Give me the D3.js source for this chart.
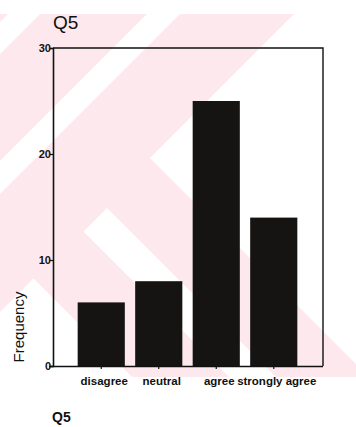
<!DOCTYPE html>
<html>
<head>
<meta charset="utf-8">
<script src="https://cdn.jsdelivr.net/npm/d3@7"></script>
<style>
  html, body { margin: 0; padding: 0; background: #fff; }
  svg { display: block; }
  text { font-family: "Liberation Sans", Arial, sans-serif; fill: #111; }
</style>
</head>
<body>
<div id="chart"></div>
<script>
// Q5 responses
const categories = ["disagree", "neutral", "agree", "strongly agree"];
const frequencies = [6, 8, 25, 14];
const yTicks = [0, 10, 20, 30];
const title = "Q5";
const yLabel = "Frequency";
const xLabel = "Q5";

const W = 356, H = 427;
const plot = { left: 53, right: 323, top: 48, bottom: 366 };

const svg = d3.select("#chart").append("svg")
  .attr("width", W).attr("height", H);

// faint pink backdrop pattern
const bg = svg.append("g");
svg.append("defs").append("clipPath").attr("id", "bgclip")
  .append("rect").attr("x", 0).attr("y", 14).attr("width", W).attr("height", 363);
const bgShapes = bg.attr("clip-path", "url(#bgclip)");
bgShapes.append("rect").attr("x", 0).attr("y", 14).attr("width", W).attr("height", 363)
  .attr("fill", "#fde9ed");
const slash = (a, b) => [[a, 0], [b, 0], [b - 600, 600], [a - 600, 600]];
const whiteShapes = [
  slash(22, 54),
  slash(161, 194),
  [[150, 158], [308, 0], [800, 0], [800, 808]],
  [[107, 208], [700, 801], [700, 848], [83.5, 231.5]],
  [[33.5, 278.5], [500, 745], [500, 800], [-300, 800], [-300, 612]]
];
bgShapes.selectAll("polygon.cut").data(whiteShapes).join("polygon")
  .attr("class", "cut")
  .attr("points", d => d.map(p => p.join(",")).join(" "))
  .attr("fill", "#fff");

// scales
const x = d3.scaleBand()
  .domain(categories)
  .range([72.5, 302.5])
  .paddingInner(0.18)
  .paddingOuter(0.09);
const y = d3.scaleLinear()
  .domain([0, 30])
  .range([plot.bottom, plot.top]);

// bars
svg.append("g").selectAll("rect.bar")
  .data(categories.map((c, i) => ({ c, v: frequencies[i] })))
  .join("rect")
  .attr("class", "bar")
  .attr("x", d => x(d.c))
  .attr("y", d => y(d.v))
  .attr("width", x.bandwidth())
  .attr("height", d => y(0) - y(d.v))
  .attr("fill", "#161313");

// frame: top and right edges
svg.append("path")
  .attr("d", `M${plot.left},${plot.top}H${plot.right}V${plot.bottom}`)
  .attr("fill", "none").attr("stroke", "#111").attr("stroke-width", 1.4);

// y axis
const yAxis = svg.append("g")
  .attr("transform", `translate(${plot.left},0)`)
  .call(d3.axisLeft(y).tickValues(yTicks).tickSize(3).tickPadding(1).tickFormat(d3.format("d")));
yAxis.select(".domain").attr("stroke", "#111").attr("stroke-width", 1.6);
yAxis.selectAll(".tick line").attr("stroke", "#111").attr("stroke-width", 1.2);
yAxis.selectAll(".tick text")
  .style("font-family", "'Liberation Sans', Arial, sans-serif")
  .style("font-size", "11px").style("font-weight", "bold")
  .attr("fill", "#111").attr("dy", "0.35em").attr("x", -2);

// x axis
const xAxis = svg.append("g")
  .attr("transform", `translate(0,${plot.bottom})`)
  .call(d3.axisBottom(x).tickSize(3).tickPadding(6).tickSizeOuter(0));
xAxis.select(".domain")
  .attr("d", `M${plot.left - 4},0.5H${plot.right}`)
  .attr("stroke", "#111").attr("stroke-width", 1.6);
xAxis.selectAll(".tick line").attr("stroke", "#111").attr("stroke-width", 1.2);
xAxis.selectAll(".tick text")
  .style("font-family", "'Liberation Sans', Arial, sans-serif")
  .style("font-size", "11.5px").style("font-weight", "bold")
  .attr("fill", "#111").attr("dx", 3).attr("dy", "0.9em");

// titles
svg.append("text")
  .attr("x", 53).attr("y", 28.5)
  .style("font-size", "19px")
  .text(title);

svg.append("text")
  .attr("transform", "translate(24,327) rotate(-90)")
  .attr("text-anchor", "middle")
  .style("font-size", "15px")
  .text(yLabel);

svg.append("text")
  .attr("x", 52).attr("y", 422)
  .style("font-size", "14px").style("font-weight", "bold")
  .text(xLabel);
</script>
</body>
</html>
